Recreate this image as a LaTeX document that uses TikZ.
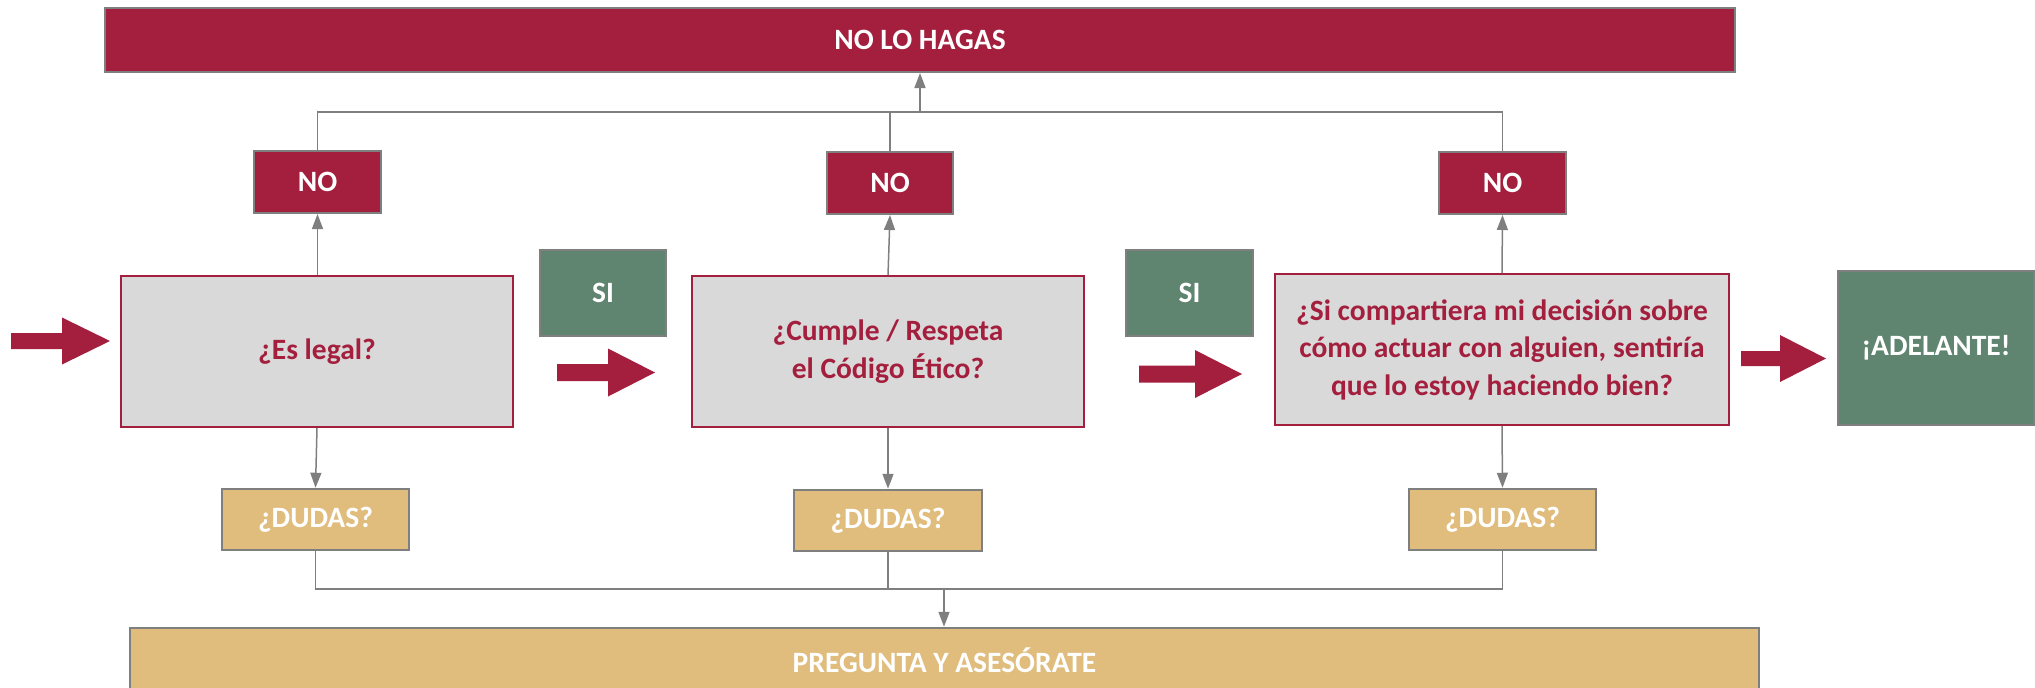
\documentclass[tikz,border=0pt]{standalone}
\usepackage{fontspec}
\setmainfont{Carlito}
\usetikzlibrary{arrows.meta}
\definecolor{crim}{HTML}{A31F3D}
\definecolor{sgreen}{HTML}{5F8470}
\definecolor{gold}{HTML}{E0BC7D}
\definecolor{lgray}{HTML}{D9D9D9}
\definecolor{bgray}{HTML}{7F7F7F}
\newcommand\redarrow[6]{% x1, xhead, xtip, yc, shaft half, head half
  \fill[crim] (#1,#4-#5) -- (#2,#4-#5) -- (#2,#4-#6) -- (#3,#4) -- (#2,#4+#6) -- (#2,#4+#5) -- (#1,#4+#5) -- cycle;}
\tikzset{
  lbl/.style={font=\fontsize{29.5}{31}\selectfont\bfseries, text=white, inner sep=0pt, align=center},
  redbox/.style={lbl, fill=crim, draw=bgray, line width=2pt},
  greenbox/.style={lbl, fill=sgreen, draw=bgray, line width=1.5pt},
  goldbox/.style={lbl, fill=gold, draw=bgray, line width=2.5pt},
  qbox/.style={fill=lgray, draw=crim, line width=2pt, text=crim, align=center, inner sep=0pt,
    font=\fontsize{29.5}{37.5}\selectfont\bfseries},
  conn/.style={draw=bgray, line width=1.5pt},
  arr/.style={conn, -{Triangle[width=11pt,length=15pt]}},
}
\begin{document}
\begin{tikzpicture}[x=1pt,y=-1pt]
\useasboundingbox (0,0) rectangle (2035,688);
\clip (0,0) rectangle (2035,688);
% top and bottom boxes
\node[redbox, minimum width=1630pt, minimum height=64pt] (top) at (920,40) {NO LO HAGAS};
\node[goldbox, minimum width=1629pt, minimum height=64pt] (ask) at (944.5,660) {PREGUNTA Y ASESÓRATE};
% NO boxes
\node[redbox, minimum width=127pt, minimum height=62pt] (no1) at (317.5,182) {NO};
\node[redbox, minimum width=126pt, minimum height=62pt] (no2) at (890,183) {NO};
\node[redbox, minimum width=127pt, minimum height=62pt] (no3) at (1502.5,183) {NO};
% SI boxes
\node[greenbox, minimum width=126pt, minimum height=86pt] (si1) at (603,293) {SI};
\node[greenbox, minimum width=127pt, minimum height=86pt] (si2) at (1189.5,293) {SI};
% decision boxes
\node[qbox, minimum width=392pt, minimum height=151pt] (q1) at (317,351.5) {¿Es legal?};
\node[qbox, minimum width=392pt, minimum height=151pt] (q2) at (888,351.5) {¿Cumple / Respeta\\el Código Ético?};
\node[qbox, minimum width=454pt, minimum height=151pt] (q3) at (1502,349.5) {¿Si compartiera mi decisión sobre\\cómo actuar con alguien, sentiría\\que lo estoy haciendo bien?};
\node[greenbox, minimum width=196pt, minimum height=154pt] (go) at (1936,348) {¡ADELANTE!};
% DUDAS boxes
\node[goldbox, minimum width=187pt, minimum height=61pt] (du1) at (315.5,519.5) {¿DUDAS?};
\node[goldbox, minimum width=188pt, minimum height=61pt] (du2) at (888,520.5) {¿DUDAS?};
\node[goldbox, minimum width=187pt, minimum height=61pt] (du3) at (1502.5,519.5) {¿DUDAS?};
% big red arrows
\redarrow{11}{62}{110}{341}{8}{23.5}
\redarrow{557}{608}{655}{372.5}{8.5}{24}
\redarrow{1139}{1195}{1242}{374}{8.5}{24}
\redarrow{1741}{1780}{1826}{358.5}{7.5}{23.5}
% connectors up
\draw[arr] (q1.north -| no1) -- (no1.south);
\draw[arr] (q2.north) -- (no2.south);
\draw[arr] (q3.north) -- (no3.south);
\coordinate (jt) at (920,112);
\draw[conn] (no1.north) |- (jt);
\draw[conn] (no2.north) |- (jt);
\draw[conn] (no3.north) |- (jt);
\draw[arr] (jt) -- (top.south -| jt);
% connectors down
\draw[arr] (q1.south) -- (du1.north);
\draw[arr] (q2.south) -- (du2.north);
\draw[arr] (q3.south) -- (du3.north);
\coordinate (jb) at (944,589);
\draw[conn] (du1.south) |- (jb);
\draw[conn] (du2.south) |- (jb);
\draw[conn] (du3.south) |- (jb);
\draw[arr] (jb) -- (ask.north -| jb);
\end{tikzpicture}
\end{document}
